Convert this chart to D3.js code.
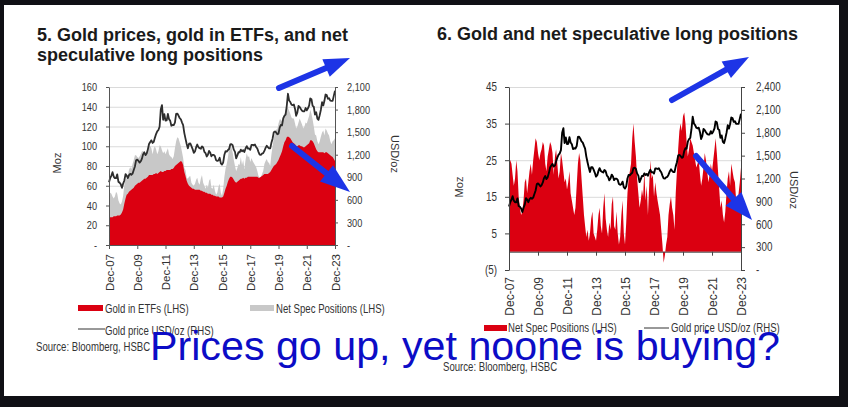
<!DOCTYPE html>
<html><head><meta charset="utf-8">
<script src="https://cdn.jsdelivr.net/npm/d3@7"></script>
<style>
html,body{margin:0;padding:0;background:#101015;}
svg{display:block}
text{font-family:"Liberation Sans",Arial,sans-serif;}
</style></head>
<body>
<svg id="c" width="848" height="407"></svg>
<script>
// ---------------- DATA (monthly, Dec-2007 .. Dec-2023) ----------------
const goldPrice = [
 834,
 889,922,968,909,888,889,939,839,829,806,760,816,
 858,943,924,890,928,946,934,949,996,1043,1127,1135,
 1118,1095,1113,1148,1205,1232,1193,1215,1271,1343,1370,1391,
 1356,1372,1424,1474,1510,1529,1572,1800,1860,1665,1739,1652,
 1656,1742,1673,1650,1585,1596,1594,1626,1744,1747,1721,1688,
 1671,1627,1593,1487,1414,1343,1286,1347,1349,1316,1275,1225,
 1244,1300,1336,1299,1287,1279,1311,1296,1239,1222,1176,1200,
 1251,1227,1179,1198,1199,1181,1128,1117,1125,1159,1086,1068,
 1097,1200,1246,1242,1260,1276,1337,1341,1326,1267,1238,1152,
 1192,1234,1231,1267,1246,1260,1236,1283,1314,1280,1283,1265,
 1331,1331,1325,1335,1303,1282,1238,1201,1198,1215,1221,1250,
 1291,1320,1300,1285,1284,1359,1413,1500,1510,1495,1471,1480,
 1560,1597,1591,1683,1716,1732,1846,2010,1921,1900,1866,1858,
 1867,1808,1718,1760,1850,1834,1807,1785,1776,1777,1821,1790,
 1817,1856,1948,1937,1849,1837,1733,1765,1681,1664,1726,1798,
 1898,1855,1913,2000,1992,1943,1951,1918,1916,1916,1985,2050
];
const etfHoldings = [
 28,
 28,28,28,29,29,29,30,30,30,31,33,36,
 42,47,51,52,54,55,56,57,58,60,61,62,
 63,63,64,65,66,67,67,68,69,71,71,71,
 71,72,72,73,72,73,74,75,74,74,75,75,
 76,76,76,76,77,77,78,80,81,82,83,84,
 85,84,81,74,70,65,62,60,59,58,57,57,
 56,56,56,56,56,55,55,54,54,53,53,52,
 52,52,51,51,50,50,49,49,49,48,48,48,
 49,53,57,60,64,67,69,69,68,66,64,63,
 64,65,66,67,67,68,67,68,68,69,69,69,
 69,69,69,69,69,69,68,68,69,70,71,72,
 72,72,72,73,74,76,78,80,81,82,84,86,
 89,92,95,100,104,106,109,110,109,108,106,104,
 103,102,100,100,101,101,100,100,99,99,100,101,
 102,103,106,106,105,103,100,97,95,94,94,94,
 94,94,93,94,94,93,92,91,90,89,87,85
];
const netSpec = [
 25,
 25,24,21,18,20,25,22,15,12,10,11,14,
 19,20,16,19,22,24,21,25,28,31,30,27,
 25,27,28,30,29,24,22,26,28,30,29,27,
 21,26,28,24,20,22,27,25,22,19,20,17,
 19,22,16,14,12,10,12,18,24,27,25,20,
 15,10,7,4,6,3,5,9,11,5,4,3,
 6,10,12,7,5,12,16,9,6,4,8,6,
 13,15,7,6,11,5,2,4,10,14,5,2,
 8,16,20,22,24,31,35,30,26,20,16,12,
 14,17,15,22,14,18,10,18,25,20,21,15,
 19,16,14,12,10,6,2,-3,-1,2,4,10,
 13,15,12,10,6,16,22,28,33,35,33,37,
 38,35,30,26,28,31,30,29,27,25,23,24,
 25,21,18,20,23,27,25,22,19,21,24,22,
 25,28,31,27,22,17,12,14,10,8,11,16,
 20,22,18,24,22,20,19,14,12,16,19,23
];
const xTickLabels = ["Dec-07","Dec-09","Dec-11","Dec-13","Dec-15","Dec-17","Dec-19","Dec-21","Dec-23"];
const c1LeftTicks  = [0,20,40,60,80,100,120,140,160];
const c1RightTicks = [0,300,600,900,1200,1500,1800,2100];
const c2LeftTicks  = [-5,5,15,25,35,45];
const c2RightTicks = [0,300,600,900,1200,1500,1800,2100,2400];

// ---------------- SETUP ----------------
const RED = "#db0011", GREY = "#c8c8c8", BLUE = "#1d34e6";
const svg = d3.select("#c");
svg.append("rect").attr("x",4).attr("y",5).attr("width",835).attr("height",391).attr("fill","#fff");

const months = goldPrice.map((_,i)=>d3.timeMonth.offset(new Date(2007,11,1), i));
const rows = months.map((d,i)=>({date:d, price:goldPrice[i], etf:etfHoldings[i], spec:netSpec[i]}));
const tickDates = xTickLabels.map(s=>new Date(2000 + (+s.slice(4)), 11, 1));

const fmtInt = d3.format(",");
const dash = v => v===0 ? "-" : fmtInt(v);
const paren = v => v===0 ? "-" : (v<0 ? "("+Math.abs(v)+")" : fmtInt(v));

function ntext(parent, x, y, str, size, sx, opts={}) {
  return parent.append("text")
    .attr("transform", `translate(${x},${y}) scale(${sx},1)`)
    .attr("font-size", size).attr("fill", opts.fill||"#222")
    .attr("font-weight", opts.weight||"normal")
    .attr("text-anchor", opts.anchor||"start")
    .text(str);
}
function styleAxis(ax, size, sx, col) {
  ax.attr("font-family", null).attr("font-size", null);
  ax.select(".domain").attr("stroke", col);
  ax.selectAll(".tick line").attr("stroke", col);
  ax.selectAll(".tick text").attr("fill","#333").attr("font-size", size)
    .each(function(){ const t=d3.select(this); const x=+t.attr("x")||0; t.attr("x", x/sx).attr("transform",`scale(${sx},1)`); });
}
function rotateLabels(ax, off, size) {
  ax.attr("font-family", null).attr("font-size", null);
  ax.selectAll(".tick text").attr("fill","#333").attr("font-size", size)
    .attr("transform","rotate(-90)").attr("x",-off).attr("y",0).attr("dy","0.35em")
    .style("text-anchor","end");
}
function rotLabel(parent, x, y, str, size, angle) {
  parent.append("text").attr("transform",`translate(${x},${y}) rotate(${angle})`)
    .attr("font-size", size).attr("fill","#333").attr("text-anchor","middle")
    .attr("dy","0.35em").text(str);
}
function arrow(parent, x0,y0,x1,y1, w, hl, hw) {
  const dx=x1-x0, dy=y1-y0, L=Math.hypot(dx,dy), ux=dx/L, uy=dy/L, nx=-uy, ny=ux;
  const bx=x1-ux*hl, by=y1-uy*hl;
  parent.append("line").attr("x1",x0).attr("y1",y0).attr("x2",bx+ux*2).attr("y2",by+uy*2)
    .attr("stroke",BLUE).attr("stroke-width",w).attr("stroke-linecap","round");
  parent.append("path").attr("fill",BLUE)
    .attr("d",`M${x1},${y1}L${bx+nx*hw/2},${by+ny*hw/2}L${bx-nx*hw/2},${by-ny*hw/2}Z`);
}

// ---------------- CHART 5 ----------------
{
  const g = svg.append("g");
  const x = d3.scaleTime().domain([months[0], months[months.length-1]]).range([109,335]);
  const yl = d3.scaleLinear().domain([0,160]).range([245,87]);
  const yr = d3.scaleLinear().domain([0,2100]).range([245,87]);

  g.append("g").attr("transform","translate(109,0)")
    .call(d3.axisLeft(yl).tickValues(c1LeftTicks.slice(1)).tickSize(-226).tickFormat(""))
    .call(a=>{a.select(".domain").remove(); a.selectAll("line").attr("stroke","#dadada");});

  g.append("path").datum(rows).attr("fill",GREY)
    .attr("d", d3.area().x(d=>x(d.date)).y0(yl(0)).y1(d=>yl(d.etf+Math.max(0,d.spec))));
  g.append("path").datum(rows).attr("fill",RED)
    .attr("d", d3.area().x(d=>x(d.date)).y0(yl(0)).y1(d=>yl(d.etf)));
  g.append("path").datum(rows).attr("fill","none").attr("stroke","#2e2e2e").attr("stroke-width",1.8)
    .attr("stroke-linejoin","round")
    .attr("d", d3.line().x(d=>x(d.date)).y(d=>yr(d.price)));

  const aL = g.append("g").attr("transform","translate(109,0)")
    .call(d3.axisLeft(yl).tickValues(c1LeftTicks).tickSize(3).tickSizeOuter(0).tickPadding(9).tickFormat(dash));
  styleAxis(aL, 11.5, 0.8, "#555");
  const aR = g.append("g").attr("transform","translate(335,0)")
    .call(d3.axisRight(yr).tickValues(c1RightTicks).tickSize(3).tickSizeOuter(0).tickPadding(9).tickFormat(dash));
  styleAxis(aR, 11.5, 0.8, "#555");
  const aB = g.append("g").attr("transform","translate(0,245)")
    .call(d3.axisBottom(x).tickValues(tickDates).tickSize(4).tickSizeOuter(0).tickFormat((d,i)=>xTickLabels[i]));
  aB.select(".domain").attr("stroke","#555"); aB.selectAll(".tick line").attr("stroke","#555");
  rotateLabels(aB, 9, 11.5);

  rotLabel(g, 57, 163, "Moz", 11, -90);
  rotLabel(g, 395, 154, "USD/oz", 11, 90);

  ntext(g, 37, 41, "5. Gold prices, gold in ETFs, and net", 18, 1, {weight:"bold", fill:"#1a1a1a"});
  ntext(g, 37, 61, "speculative long positions", 18, 1, {weight:"bold", fill:"#1a1a1a"});

  g.append("rect").attr("x",78).attr("y",305).attr("width",25).attr("height",6).attr("fill",RED);
  ntext(g, 105, 313, "Gold in ETFs (LHS)", 12, 0.8, {fill:"#333"});
  g.append("rect").attr("x",250).attr("y",305).attr("width",24).attr("height",6).attr("fill",GREY);
  ntext(g, 276, 313, "Net Spec Positions (LHS)", 12, 0.8, {fill:"#333"});
  g.append("line").attr("x1",78).attr("x2",105).attr("y1",329).attr("y2",329).attr("stroke","#333");
  ntext(g, 105, 335, "Gold price USD/oz (RHS)", 12, 0.8, {fill:"#333"});
  ntext(g, 36, 351, "Source: Bloomberg, HSBC", 12, 0.8, {fill:"#333"});
}

// ---------------- CHART 6 ----------------
{
  const g = svg.append("g");
  const x = d3.scaleTime().domain([months[0], months[months.length-1]]).range([509,741]);
  const yl = d3.scaleLinear().domain([-5,45]).range([270,87]);
  const yr = d3.scaleLinear().domain([0,2400]).range([270,87]);

  g.append("g").attr("transform","translate(509,0)")
    .call(d3.axisLeft(yl).tickValues(c2LeftTicks).tickSize(-232).tickFormat(""))
    .call(a=>{a.select(".domain").remove(); a.selectAll("line").attr("stroke","#dadada");});

  g.append("path").datum(rows).attr("fill",RED)
    .attr("d", d3.area().x(d=>x(d.date)).y0(yl(0)).y1(d=>yl(d.spec)));
  g.append("path").datum(rows).attr("fill","none").attr("stroke","#000").attr("stroke-width",1.9)
    .attr("stroke-linejoin","round")
    .attr("d", d3.line().x(d=>x(d.date)).y(d=>yr(d.price)));

  const aZ = g.append("g").attr("transform",`translate(0,${yl(0)})`)
    .call(d3.axisBottom(x).tickValues(tickDates).tickSize(4).tickSizeOuter(0).tickFormat(""));
  aZ.select(".domain").attr("stroke","#444"); aZ.selectAll(".tick line").attr("stroke","#444");
  const aB = g.append("g").attr("transform","translate(0,270)")
    .call(d3.axisBottom(x).tickValues(tickDates).tickSize(0).tickFormat((d,i)=>xTickLabels[i]));
  aB.select(".domain").remove();
  rotateLabels(aB, 7, 12);

  const aL = g.append("g").attr("transform","translate(509,0)")
    .call(d3.axisLeft(yl).tickValues(c2LeftTicks).tickSize(4).tickSizeOuter(0).tickPadding(8).tickFormat(paren));
  styleAxis(aL, 12, 0.82, "#444");
  const aR = g.append("g").attr("transform","translate(741,0)")
    .call(d3.axisRight(yr).tickValues(c2RightTicks).tickSize(4).tickSizeOuter(0).tickPadding(11).tickFormat(dash));
  styleAxis(aR, 12, 0.82, "#444");

  rotLabel(g, 459, 187, "Moz", 11, -90);
  rotLabel(g, 794, 190, "USD/oz", 11, 90);

  ntext(g, 437, 40, "6. Gold and net speculative long positions", 18, 1, {weight:"bold", fill:"#1a1a1a"});

  g.append("rect").attr("x",484).attr("y",325).attr("width",23).attr("height",6).attr("fill",RED);
  ntext(g, 508, 332, "Net Spec Positions (LHS)", 12, 0.8, {fill:"#333"});
  g.append("line").attr("x1",644).attr("x2",669).attr("y1",328).attr("y2",328).attr("stroke","#333");
  ntext(g, 671, 332, "Gold price USD/oz (RHS)", 12, 0.8, {fill:"#333"});
}

// ---------------- ANNOTATIONS ----------------
{
  const g = svg.append("g");
  arrow(g, 279, 88, 350, 58, 6, 26, 19);
  arrow(g, 292, 146, 350, 192, 6, 30, 21);
  arrow(g, 672, 100, 749, 57, 6, 26, 19);
  arrow(g, 696, 156, 752, 220, 6, 28, 21);
  g.append("text").attr("x",150).attr("y",360).attr("font-family","Lato, 'Open Sans', sans-serif")
    .attr("font-size",41).attr("fill","#0c0cc6").attr("textLength",630).attr("lengthAdjust","spacingAndGlyphs")
    .text("Prices go up, yet noone is buying?");
  ntext(g, 443, 371, "Source: Bloomberg, HSBC", 12, 0.8, {fill:"#333"});
}
</script>
</body></html>
